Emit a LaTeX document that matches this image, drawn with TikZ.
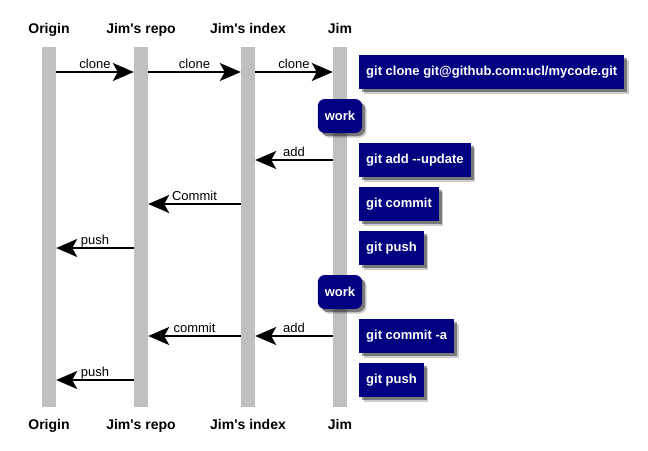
\documentclass[tikz,border=0pt]{standalone}
\usepackage{fontspec}
\setmainfont{Liberation Sans}
\usetikzlibrary{arrows.meta,shadows}
\definecolor{barcol}{HTML}{C0C0C0}
\definecolor{boxcol}{HTML}{000080}
\tikzset{
  lifebar/.style={fill=barcol, draw=none, minimum width=14pt, minimum height=360pt, inner sep=0pt},
  title/.style={anchor=base, font=\bfseries\fontsize{14pt}{16pt}\selectfont, inner sep=0pt},
  msg/.style={line width=2pt, -{Stealth[length=21pt,width=18pt,inset=5pt]}},
  lbl/.style={midway, anchor=base, yshift=3.5pt, inner sep=0pt, font=\fontsize{13pt}{15pt}\selectfont},
  shadowed/.style={general shadow={shadow xshift=4.5pt, shadow yshift=-4.5pt, fill=black, opacity=0.2},
                   general shadow={shadow xshift=3pt, shadow yshift=-3pt, fill=black, opacity=0.4}},
  cmdbox/.style={shadowed, fill=boxcol, text=white, anchor=west, minimum height=34pt, inner xsep=7pt,
                 font=\bfseries\fontsize{13pt}{15pt}\selectfont},
  workbox/.style={shadowed, fill=boxcol, text=white, rounded corners=7pt, minimum height=34pt, minimum width=44pt,
                 inner xsep=7pt, font=\bfseries\fontsize{13pt}{15pt}\selectfont}
}
\begin{document}
\begin{tikzpicture}[x=1pt,y=-1pt]
\useasboundingbox (0,0) rectangle (648,450);
% lifelines
\node[lifebar] (o) at (49,227) {};
\node[lifebar] (r) at (141,227) {};
\node[lifebar] (i) at (248,227) {};
\node[lifebar] (j) at (340,227) {};
% titles
\node[title] (ot) at (49,33.5) {Origin};
\node[title] (rt) at (141,33.5) {Jim\textquotesingle s repo};
\node[title] (it) at (248,33.5) {Jim\textquotesingle s index};
\node[title] (jt) at (340,33.5) {Jim};
\node[title] (ob) at (49,429) {Origin};
\node[title] (rb) at (141,429) {Jim\textquotesingle s repo};
\node[title] (ib) at (248,429) {Jim\textquotesingle s index};
\node[title] (jb) at (340,429) {Jim};
% messages
\draw[msg] (o.east |- 0,72) -- (r.west |- 0,72) node[lbl] {clone};
\draw[msg] (r.east |- 0,72) -- (i.west |- 0,72) node[lbl] {clone};
\draw[msg] (i.east |- 0,72) -- (j.west |- 0,72) node[lbl] {clone};
\draw[msg] (j.west |- 0,160) -- (i.east |- 0,160) node[lbl] {add};
\draw[msg] (i.west |- 0,204) -- (r.east |- 0,204) node[lbl] {Commit};
\draw[msg] (r.west |- 0,248) -- (o.east |- 0,248) node[lbl] {push};
\draw[msg] (j.west |- 0,336) -- (i.east |- 0,336) node[lbl] {add};
\draw[msg] (i.west |- 0,336) -- (r.east |- 0,336) node[lbl] {commit};
\draw[msg] (r.west |- 0,380) -- (o.east |- 0,380) node[lbl] {push};
% work boxes
\node[workbox] (w1) at (340,116) {work};
\node[workbox] (w2) at (340,292) {work};
% command boxes
\node[cmdbox] (c1) at (359,72) {git clone git@github.com:ucl/mycode.git};
\node[cmdbox] (c2) at (359,160) {git add -{}-update};
\node[cmdbox] (c3) at (359,204) {git commit};
\node[cmdbox] (c4) at (359,248) {git push};
\node[cmdbox] (c5) at (359,336) {git commit -a};
\node[cmdbox] (c6) at (359,380) {git push};
\end{tikzpicture}
\end{document}
